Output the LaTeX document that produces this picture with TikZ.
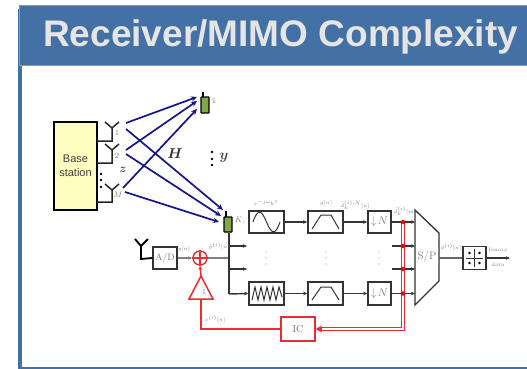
\documentclass[tikz,border=0pt]{standalone}
\usepackage{amsmath}
\usepackage{fontspec}
\setsansfont{Liberation Sans}
\usetikzlibrary{arrows.meta}
\definecolor{hdr}{HTML}{4371A5}
\definecolor{navyarrow}{HTML}{15158A}
\definecolor{blk}{HTML}{333333}
\definecolor{lab}{HTML}{6F8296}
\definecolor{redl}{HTML}{EE2A35}
\definecolor{phonegreen}{HTML}{7FA84A}
\tikzset{
 x=1pt,y=-1pt,
 mimo/.style={navyarrow,line width=1.7pt,-{Stealth[length=6pt,width=5.5pt]}},
 blockbox/.style={draw=blk,line width=1.5pt,fill=white},
 wire/.style={blk,line width=1.4pt},
 wirearrow/.style={wire,-{Stealth[length=4pt,width=3.5pt]}},
 redwire/.style={redl,line width=1.5pt},
 tiny lab/.style={lab,font=\fontsize{5}{6}\selectfont,inner sep=0pt},
 ant lab/.style={gray,font=\fontsize{8}{9}\selectfont,inner sep=0pt},
 phone/.style={draw=black,line width=1.2pt,fill=phonegreen,rounded corners=0.5pt},
 dotf/.style={circle,fill=black,inner sep=0pt,minimum size=2.8pt},
 reddot/.style={circle,fill=red,inner sep=0pt,minimum size=4.5pt},
}
\begin{document}
\begin{tikzpicture}
\useasboundingbox (0,0) rectangle (527,369);
\fill[white] (0,0) rectangle (527,369);
% slide frame
\fill[hdr] (18,9) rectangle (22,369);
\fill[hdr] (18,367) rectangle (527,369);
\path[fill=hdr,draw=gray!80,line width=1pt] (19.5,6) rectangle (530,66);
\node[font=\sffamily\bfseries\fontsize{37}{40}\selectfont,text=white!90!black,anchor=west,inner sep=0pt] (title) at (43,36.5) {Receiver/MIMO Complexity};
% base station
\node[draw=black,line width=1.3pt,fill=yellow!25,minimum width=43pt,minimum height=88pt,inner sep=0pt,align=center,font=\sffamily\fontsize{11}{14.5}\selectfont,text=black!75] (bs) at (75.5,166) {Base\\station};
\foreach \t/\b/\n in {122/141/a1,144/163/a2,184/202/a3}{
 \draw[black!85,line width=1.5pt] (105,\t) -- (112,\t+6) -- (119,\t) (112,\t+6) -- (112,\b) -- (97,\b);
}
\node[ant lab] (l1) at (117,133) {1};
\node[ant lab] (l2) at (117,156) {2};
\node[ant lab] (lM) at (118,195) {$M$};
\foreach \y/\n in {174/d1,180/d2,187/d3}{\node[dotf] (\n) at (101,\y) {};}
\node[font=\fontsize{13}{15}\selectfont,inner sep=0pt,text=black!70] (z) at (123,170) {$\boldsymbol{z}$};
\node[font=\fontsize{15}{17}\selectfont,inner sep=0pt,text=black!80] (H) at (175,154) {$\boldsymbol{H}$};
\foreach \y/\n in {152/e1,159/e2,165/e3}{\node[dotf] (\n) at (212,\y) {};}
\node[font=\fontsize{14}{16}\selectfont,inner sep=0pt,text=black!70] (yv) at (224,158) {$\boldsymbol{y}$};
% phones
\draw[black,line width=1.2pt] (203,97) -- (203,92) (226,217) -- (226,211);
\node[phone,minimum width=8pt,minimum height=16pt,inner sep=0pt] (p1) at (205,105) {};
\node[phone,minimum width=8pt,minimum height=15pt,inner sep=0pt] (pK) at (228,224.5) {};
\node[ant lab] (k1) at (214,101) {1};
\node[ant lab] (kK) at (240,221) {$K$,};
% channel arrows
\coordinate (s1a) at (126,123); \coordinate (s1b) at (126,129);
\coordinate (s2a) at (126,150); \coordinate (s2b) at (126,154);
\coordinate (s3a) at (123,188); \coordinate (s3b) at (125,192);
\coordinate (t1a) at (197,97); \coordinate (t1b) at (197,101); \coordinate (t1c) at (197,109);
\coordinate (tKa) at (223,210); \coordinate (tKb) at (221,216); \coordinate (tKc) at (219,222);
\draw[mimo] (s1a) -- (t1a);
\draw[mimo] (s2a) -- (t1b);
\draw[mimo] (s3a) -- (t1c);
\draw[mimo] (s1b) -- (tKa);
\draw[mimo] (s2b) -- (tKb);
\draw[mimo] (s3b) -- (tKc);
% receiver blocks
\node[blockbox,minimum width=35pt,minimum height=22pt,inner sep=0pt] (sine) at (266.5,222) {};
\draw[blk,line width=1pt] (253,222) .. controls (258,207) and (262,211) .. (266.5,222) .. controls (271,233) and (275,237) .. (280,222);
\node[blockbox,minimum width=35pt,minimum height=23pt,inner sep=0pt] (zig) at (266.5,293.5) {};
\draw[blk,line width=1pt] (252,300) -- (255,287) -- (258,300) -- (261,287) -- (264,300) -- (267,287) -- (270,300) -- (273,287) -- (276,300) -- (279,287) -- (282,297);
\node[blockbox,minimum width=35pt,minimum height=22pt,inner sep=0pt] (f1) at (325.5,222) {};
\draw[blk,line width=1pt] (312,229) -- (321,215) -- (331,215) -- (339,229);
\node[blockbox,minimum width=35pt,minimum height=23pt,inner sep=0pt] (f2) at (325.5,293.5) {};
\draw[blk,line width=1pt] (312,300) -- (321,287) -- (331,287) -- (339,300);
\node[blockbox,minimum width=23pt,minimum height=22pt,inner sep=0pt,font=\fontsize{11}{12}\selectfont,text=gray] (dn1) at (379.5,222) {$\downarrow\!N$};
\node[blockbox,minimum width=23pt,minimum height=23pt,inner sep=0pt,font=\fontsize{11}{12}\selectfont,text=gray] (dn2) at (379.5,293.5) {$\downarrow\!N$};
\node[draw=blk,line width=1.3pt,minimum width=24pt,minimum height=22pt,inner sep=0pt,font=\fontsize{9.5}{11}\selectfont,text=gray] (ad) at (165,258) {A/D};
\draw[black,line width=1.8pt] (135,239) -- (141,246) -- (148,239) (141,246) -- (141,259) -- (ad.west);
\draw[wirearrow] (sine) -- (f1);
\draw[wirearrow] (zig) -- (f2);
\draw[wirearrow] (f1) -- (dn1);
\draw[wirearrow] (f2) -- (dn2);
% sum and feedback
\node[draw=redl,circle,line width=1.4pt,minimum size=14pt,inner sep=0pt] (sum) at (200,258) {};
\draw[redl,line width=1.2pt] (sum.north) -- (sum.south) (sum.west) -- (sum.east);
\draw[gray,line width=1.3pt,-{Stealth[length=4pt,width=3.5pt]}] (ad) -- (sum);
\coordinate (bus) at (229,258);
\draw[gray,line width=1.3pt] (sum) -- (bus);
\coordinate (busTop) at (229,233);
\coordinate (busA) at (229,246); \coordinate (busB) at (229,269); \coordinate (busC) at (229,294);
\coordinate (stubA) at (247,246); \coordinate (stubB) at (247,269);
\draw[wire] (busTop) -- (busC);
\draw[wirearrow] (busA) -- (stubA);
\draw[wirearrow] (busB) -- (stubB);
\draw[wirearrow] (busC) -- (zig.west);
\node[draw=redl,line width=1.5pt,shape=rectangle,minimum width=34pt,minimum height=24pt,inner sep=0pt,font=\fontsize{10}{11}\selectfont,text=gray!90!black] (ic) at (298,329) {IC};
\coordinate (triA) at (201,276); \coordinate (triL) at (189,299); \coordinate (triR) at (213,299);
\draw[redl,line width=1.5pt,line join=miter] (triA) -- (triL) -- (triR) -- cycle;
\node[font=\fontsize{8}{9}\selectfont,text=gray,inner sep=0pt] (trilab) at (204,292) {1};
\draw[redwire,-{Stealth[length=4pt,width=3.5pt]}] (triA) -- (sum.south);
\coordinate (fbc) at (201,329);
\draw[redwire] (ic.west) -- (fbc) -- (201,299);
% S/P
\path[draw=blk,line width=1.3pt,fill=white] (415,210) -- (439,233) -- (439,281) -- (415,305) -- cycle;
\node[font=\fontsize{11}{12}\selectfont,text=gray,inner sep=0pt] (sp) at (427,257) {S/P};
\coordinate (j1) at (403,222); \coordinate (j2) at (403,246); \coordinate (j3) at (403,269); \coordinate (j4) at (403,293.5);
\coordinate (in2) at (392,246); \coordinate (in3) at (392,269);
\draw[wirearrow] (dn1) -- (415,222);
\draw[wirearrow] (in2) -- (415,246);
\draw[wirearrow] (in3) -- (415,269);
\draw[wirearrow] (dn2) -- (415,293.5);
% red double bus
\coordinate (bc) at (403,329);
\draw[redl,line width=3.4pt,line join=miter] (j1) -- (bc) -- (320,329);
\draw[white,line width=1.4pt,line join=miter] (j1) -- (bc) -- (320,329);
\draw[redl,line width=1.5pt,-{Stealth[length=6pt,width=7pt]}] (322,329) -- (ic.east);
\foreach \p/\n in {j1/r1,j2/r2,j3/r3,j4/r4}{\node[reddot] (\n) at (\p) {};}
% output
\node[blockbox,minimum width=23pt,minimum height=23pt,inner sep=0pt] (dec) at (474.5,258) {};
\draw[blk,line width=1pt] (474.5,249) -- (474.5,267) (466,258) -- (483,258);
\foreach \dx/\dy in {-5/-5,5/-5,-5/5,5/5}{\fill[black] (474.5+\dx,258+\dy) circle (1.3);}
\coordinate (spout) at (439,258);
\coordinate (outend) at (510,258);
\draw[gray!80!black,line width=1.3pt] (spout) -- (dec);
\draw[wirearrow] (dec) -- (outend);
\node[tiny lab,text=gray] (bin) at (498,250) {binary};
\node[tiny lab,text=gray] (dat) at (498,265) {data};
% dots between branches
\foreach \x/\n in {266/v1,326/v2,379/v3}{
 \foreach \y/\m in {252/a,258/b,264/c}{\fill[gray!70] (\x,\y) circle (0.7);}
}
% small labels
\node[tiny lab] (t1) at (184,249) {$y[n]$};
\node[tiny lab] (t2) at (219,246) {$\tilde y^{(i)}[n]$};
\node[tiny lab] (t3) at (215,319) {$z^{(i)}[n]$};
\node[tiny lab] (t4) at (266,203) {$e^{-j\omega_k t}$};
\node[tiny lab] (t5) at (326,203) {$g[n]$};
\node[tiny lab] (t6) at (355,205) {$\tilde d_k^{(i),N}[n]$};
\node[tiny lab] (t7) at (405,211) {$\tilde d_k^{(i)}[m]$};
\node[tiny lab] (t8) at (451,247) {$d^{(i)}[n]$};
\end{tikzpicture}
\end{document}
